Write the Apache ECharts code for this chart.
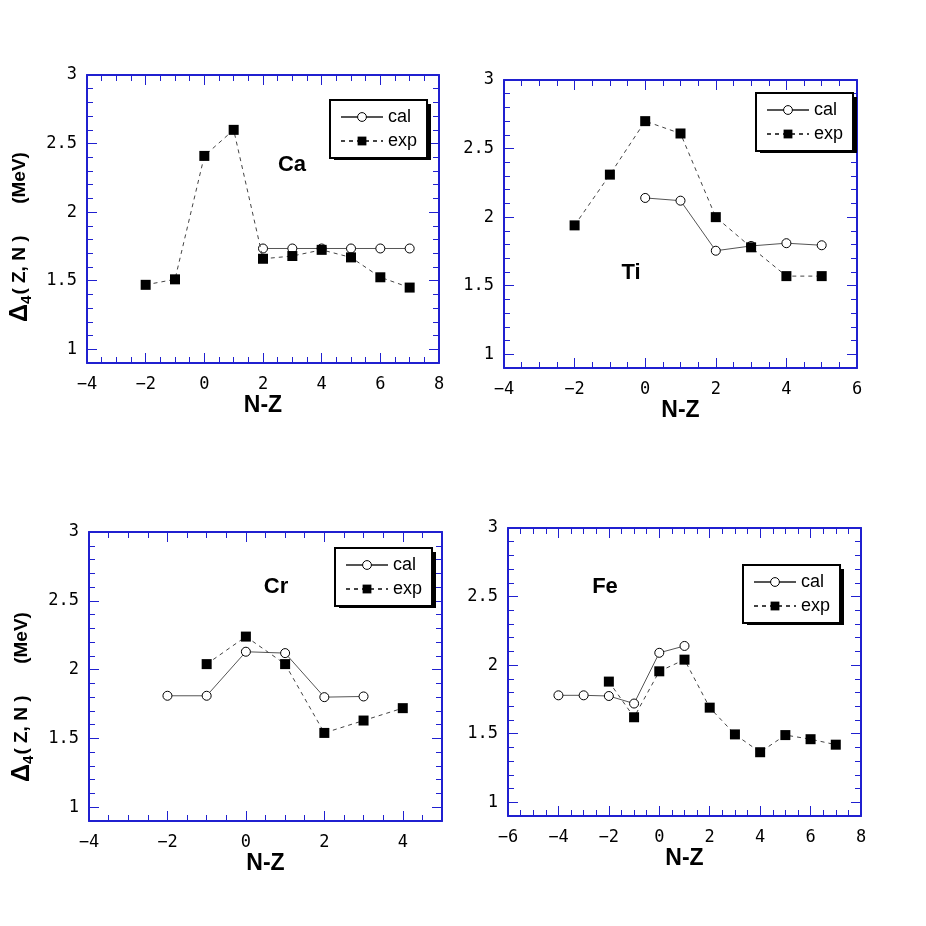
<!DOCTYPE html>
<html>
<head>
<meta charset="utf-8">
<script src="https://cdn.jsdelivr.net/npm/echarts@6/dist/echarts.min.js"></script>
<style>
  html, body { margin: 0; padding: 0; background: #fff; }
  #main { width: 926px; height: 926px; }
</style>
</head>
<body>
<div id="main"></div>
<script>
/*********** 数据 ***********/
var caCalX = [2, 3, 4, 5, 6, 7];
var caCal  = [1.735, 1.735, 1.735, 1.735, 1.735, 1.735];
var caExpX = [-2, -1, 0, 1, 2, 3, 4, 5, 6, 7];
var caExp  = [1.47, 1.51, 2.41, 2.60, 1.66, 1.68, 1.725, 1.67, 1.525, 1.45];

var tiCalX = [0, 1, 2, 3, 4, 5];
var tiCal  = [2.14, 2.12, 1.755, 1.79, 1.81, 1.795];
var tiExpX = [-2, -1, 0, 1, 2, 3, 4, 5];
var tiExp  = [1.94, 2.31, 2.70, 2.61, 2.00, 1.78, 1.57, 1.57];

var crCalX = [-2, -1, 0, 1, 2, 3];
var crCal  = [1.81, 1.81, 2.13, 2.12, 1.80, 1.805];
var crExpX = [-1, 0, 1, 2, 3, 4];
var crExp  = [2.04, 2.24, 2.04, 1.54, 1.63, 1.72];

var feCalX = [-4, -3, -2, -1, 0, 1];
var feCal  = [1.78, 1.78, 1.775, 1.72, 2.09, 2.14];
var feExpX = [-2, -1, 0, 1, 2, 3, 4, 5, 6, 7];
var feExp  = [1.88, 1.62, 1.955, 2.04, 1.69, 1.495, 1.365, 1.49, 1.46, 1.42];

var xRanges = [[-4, 8], [-4, 6], [-4, 5], [-6, 8]];
var elements = ['Ca', 'Ti', 'Cr', 'Fe'];

var BLUE = '#2020d0';
var MONO = 'DejaVu Sans Mono';

function pairs(xs, ys) {
    var out = [];
    for (var i = 0; i < xs.length; i++) {
        out.push([xs[i], ys[i]]);
    }
    return out;
}

var grids = [
    { left: 87,  top: 75,  width: 352, height: 288 },
    { left: 504, top: 80,  width: 353, height: 288 },
    { left: 89,  top: 532, width: 353, height: 289 },
    { left: 508, top: 528, width: 353, height: 288 }
];
var legendPos = [[330, 100], [756, 93], [335, 548], [743, 565]];
var labelPos = [[292, 165], [631, 273], [276, 587], [605, 587]];

var calData = [pairs(caCalX, caCal), pairs(tiCalX, tiCal), pairs(crCalX, crCal), pairs(feCalX, feCal)];
var expData = [pairs(caExpX, caExp), pairs(tiExpX, tiExp), pairs(crExpX, crExp), pairs(feExpX, feExp)];

var xAxes = [], yAxes = [], series = [], legends = [], graphics = [];

for (var i = 0; i < 4; i++) {
    var xr = xRanges[i];
    // 下 x 轴
    xAxes.push({
        gridIndex: i, type: 'value', min: xr[0], max: xr[1], interval: 2,
        position: 'bottom',
        axisLine: { onZero: false, lineStyle: { color: BLUE, width: 2 } },
        axisTick: { inside: true, length: 10, lineStyle: { color: BLUE, width: 1 } },
        minorTick: { show: true, splitNumber: 4, length: 6, lineStyle: { color: BLUE, width: 1 } },
        splitLine: { show: false },
        axisLabel: {
            color: '#000', fontFamily: MONO, fontSize: 17, margin: 13,
            showMaxLabel: xr[1] % 2 === 0,
            formatter: function (v) { return String(v).replace('-', '\u2212'); }
        },
        name: 'N-Z', nameLocation: 'middle', nameGap: 30,
        nameTextStyle: { color: '#000', fontFamily: 'Liberation Sans', fontWeight: 'bold', fontSize: 23 }
    });
    // 左 y 轴
    yAxes.push({
        gridIndex: i, type: 'value', min: 0.9, max: 3, splitNumber: 5,
        position: 'left',
        axisLine: { onZero: false, lineStyle: { color: BLUE, width: 2 } },
        axisTick: { inside: true, length: 10, lineStyle: { color: BLUE, width: 1 } },
        minorTick: { show: true, splitNumber: 5, length: 6, lineStyle: { color: BLUE, width: 1 } },
        splitLine: { show: false },
        axisLabel: {
            color: '#000', fontFamily: MONO, fontSize: 17, margin: 10,
            showMinLabel: false,
            formatter: function (v) { return Math.abs(v - 0.9) < 1e-6 ? '' : String(v); }
        }
    });
    series.push({
        name: 'cal', type: 'line', xAxisIndex: i, yAxisIndex: i,
        data: calData[i], symbol: 'circle', symbolSize: 9, z: 3,
        itemStyle: { color: '#fff', borderColor: '#000', borderWidth: 1 },
        lineStyle: { color: '#555', width: 1 }
    });
    series.push({
        name: 'exp', type: 'line', xAxisIndex: i, yAxisIndex: i,
        data: expData[i], symbol: 'rect', symbolSize: 10, z: 4,
        itemStyle: { color: '#000' },
        lineStyle: { color: '#444', width: 1, type: [4, 4] }
    });
    legends.push({
        orient: 'vertical', left: legendPos[i][0], top: legendPos[i][1],
        data: ['cal', 'exp'], selectedMode: false, z: 6,
        backgroundColor: '#fff', borderColor: '#000', borderWidth: 2,
        padding: [8, 10, 8, 10], itemGap: 6, itemWidth: 42, itemHeight: 11,
        itemStyle: { borderWidth: 1 },
        textStyle: { fontSize: 18, fontFamily: 'Liberation Sans', color: '#000' }
    });
    // 图例阴影
    graphics.push({
        type: 'rect', z: 1,
        shape: { x: legendPos[i][0] + 4, y: legendPos[i][1] + 4, width: 97, height: 56 },
        style: { fill: '#000' }
    });
    graphics.push({
        type: 'text', x: labelPos[i][0], y: labelPos[i][1], z: 10,
        style: {
            text: elements[i], fill: '#000', align: 'center', verticalAlign: 'middle',
            font: 'bold 22px "Liberation Sans"'
        }
    });
}

// 上 x 轴、右 y 轴（镜像刻度）
for (var j = 0; j < 4; j++) {
    xAxes.push({
        gridIndex: j, type: 'value', min: xRanges[j][0], max: xRanges[j][1], interval: 2,
        position: 'top',
        axisLine: { onZero: false, lineStyle: { color: BLUE, width: 2 } },
        axisTick: { inside: true, length: 10, lineStyle: { color: BLUE, width: 1 } },
        minorTick: { show: true, splitNumber: 4, length: 6, lineStyle: { color: BLUE, width: 1 } },
        splitLine: { show: false },
        axisLabel: { show: false }
    });
    yAxes.push({
        gridIndex: j, type: 'value', min: 0.9, max: 3, splitNumber: 5,
        position: 'right',
        axisLine: { onZero: false, lineStyle: { color: BLUE, width: 2 } },
        axisTick: { inside: true, length: 10, lineStyle: { color: BLUE, width: 1 } },
        minorTick: { show: true, splitNumber: 5, length: 6, lineStyle: { color: BLUE, width: 1 } },
        splitLine: { show: false },
        axisLabel: { show: false }
    });
}

// y 轴标题
var yTitlePos = [[20, 237], [22, 697]];
for (var k = 0; k < 2; k++) {
    graphics.push({
        type: 'text', x: yTitlePos[k][0], y: yTitlePos[k][1], rotation: Math.PI / 2,
        style: {
            text: '{d|\u0394}{b|4}{a|( Z, N )}{c|      }{a|(MeV)}',
            align: 'center', verticalAlign: 'middle', fill: '#000',
            rich: {
                d: { fontFamily: 'Liberation Sans', fontWeight: 'bold', fontSize: 25, lineHeight: 28, verticalAlign: 'middle' },
                a: { fontFamily: 'Liberation Sans', fontWeight: 'bold', fontSize: 19, lineHeight: 28, verticalAlign: 'middle' },
                b: { fontFamily: 'Liberation Sans', fontWeight: 'bold', fontSize: 15, lineHeight: 28, verticalAlign: 'bottom', padding: [12, 1, 0, 0] },
                c: { fontSize: 19, lineHeight: 28 }
            }
        }
    });
}

var myChart = echarts.init(document.getElementById('main'));
var option = {
    animation: false,
    backgroundColor: '#fff',
    grid: grids,
    xAxis: xAxes,
    yAxis: yAxes,
    legend: legends,
    series: series,
    graphic: graphics
};
myChart.setOption(option);
</script>
</body>
</html>
